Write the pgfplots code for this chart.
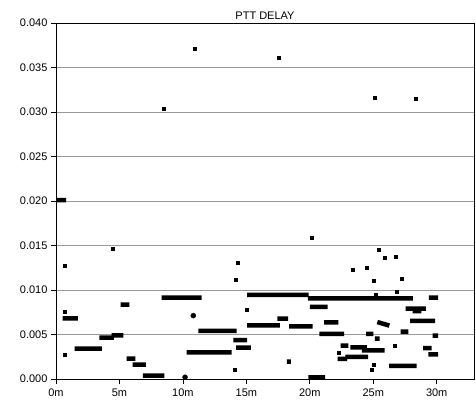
\documentclass[border=0pt]{standalone}
\usepackage{fontspec}
\setmainfont{Liberation Sans}
\usepackage{pgfplots}
\pgfplotsset{compat=1.18}

\begin{document}
\begin{tikzpicture}
\useasboundingbox (-56bp,-23bp) rectangle (420bp,379bp);
\begin{axis}[
  at={(0,0)}, anchor=south west,
  scale only axis,
  width=418bp, height=356bp,
  xmin=0, xmax=32.94,
  ymin=0, ymax=0.040,
  xtick={0,5,10,15,20,25,30},
  xticklabels={0m,5m,10m,15m,20m,25m,30m},
  ytick={0,0.005,...,0.0401},
  scaled y ticks=false,
  yticklabel style={/pgf/number format/.cd, fixed, fixed zerofill, precision=3, assume math mode=true},
  xticklabel style={yshift=-1.5bp},
  ticklabel style={font=\fontsize{11bp}{13bp}\selectfont},
  tick align=outside,
  xtick pos=left, ytick pos=left,
  major tick length=5bp,
  tick style={black, line width=0.8bp},
  ymajorgrids,
  major grid style={black!40, line width=1bp},
  axis line style={black, line width=1bp},
  title={PTT DELAY},
  title style={font=\fontsize{11bp}{13bp}\selectfont, yshift=-6bp},
  unbounded coords=jump,
]
% runs of samples at one delay, drawn as thick bars
\addplot[black, line width=4.5bp, mark=none] coordinates {
(0.05,0.0201) (0.79,0.0201) (0,nan)
(0.53,0.00682) (1.73,0.00682) (0,nan)
(1.47,0.00340) (3.62,0.00340) (0,nan)
(3.41,0.00464) (4.57,0.00464) (0,nan)
(4.39,0.00490) (5.30,0.00490) (0,nan)
(5.10,0.00835) (5.78,0.00835) (0,nan)
(5.57,0.00228) (6.25,0.00228) (0,nan)
(6.04,0.00161) (7.09,0.00161) (0,nan)
(6.85,0.00037) (8.55,0.00037) (0,nan)
(8.33,0.00914) (11.48,0.00914) (0,nan)
(10.30,0.00300) (13.84,0.00300) (0,nan)
(11.21,0.00540) (14.24,0.00540) (0,nan)
(13.97,0.00438) (15.07,0.00438) (0,nan)
(14.20,0.00352) (15.35,0.00352) (0,nan)
(15.07,0.00944) (19.90,0.00944) (0,nan)
(15.07,0.00603) (17.65,0.00603) (0,nan)
(17.44,0.00678) (18.30,0.00678) (0,nan)
(18.38,0.00590) (20.22,0.00590) (0,nan)
(18.20,0.00195) (18.50,0.00195) (0,nan)
(19.85,0.00907) (28.12,0.00907) (0,nan)
(20.00,0.00810) (21.40,0.00810) (0,nan)
(21.12,0.00637) (22.25,0.00637) (0,nan)
(20.75,0.00506) (22.70,0.00506) (0,nan)
(19.88,0.00019) (21.20,0.00019) (0,nan)
(22.43,0.00374) (23.04,0.00374) (0,nan)
(23.20,0.00354) (24.50,0.00354) (0,nan)
(24.10,0.00322) (25.90,0.00322) (0,nan)
(22.20,0.00225) (22.95,0.00225) (0,nan)
(22.80,0.00250) (24.60,0.00250) (0,nan)
(24.43,0.00508) (25.00,0.00508) (0,nan)
(25.13,0.00453) (25.50,0.00453) (0,nan)
(25.32,0.00640) (26.27,0.00600) (0,nan)
(26.26,0.00148) (28.42,0.00148) (0,nan)
(27.16,0.00532) (27.77,0.00532) (0,nan)
(27.55,0.00790) (29.15,0.00790) (0,nan)
(28.10,0.00762) (28.80,0.00762) (0,nan)
(27.90,0.00652) (29.87,0.00652) (0,nan)
(29.39,0.00914) (30.12,0.00914) (0,nan)
(29.68,0.00487) (30.12,0.00487) (0,nan)
(28.94,0.00347) (29.60,0.00347) (0,nan)
(29.34,0.00277) (30.12,0.00277)
};
% single samples
\addplot[only marks, mark=square*, mark size=1.5bp, black] coordinates {
(0.65,0.01278) (0.65,0.00753) (0.65,0.00278) (4.46,0.01465)
(8.46,0.03038) (10.95,0.0371) (17.57,0.03605) (25.14,0.03166)
(28.31,0.0315) (20.15,0.01593) (25.45,0.0145) (14.29,0.01304)
(14.13,0.01121) (15.03,0.00776) (14.05,0.0011) (23.38,0.01225)
(22.25,0.00293) (25.9,0.0136) (26.8,0.0137) (24.48,0.01255)
(25.0,0.01105) (27.24,0.01132) (26.84,0.00981) (25.16,0.0095)
(26.71,0.00374) (25.06,0.00157) (24.88,0.00109)
};
\addplot[only marks, mark=*, mark size=2.5bp, black] coordinates {
(10.82,0.00712) (10.17,0.0002)
};
\end{axis}
\end{tikzpicture}
\end{document}
